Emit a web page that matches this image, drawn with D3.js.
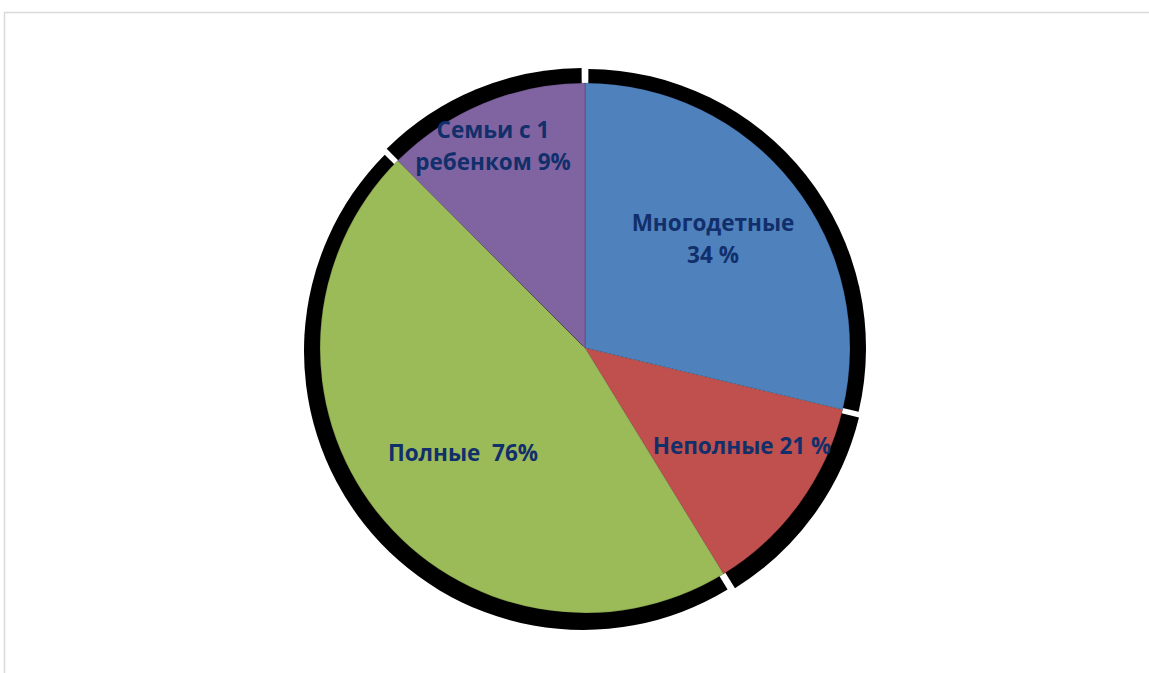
<!DOCTYPE html>
<html><head><meta charset="utf-8">
<script src="https://cdn.jsdelivr.net/npm/d3@7"></script>
<style>html,body{margin:0;padding:0;background:#fff;overflow:hidden}</style>
</head><body>
<svg id="chart" width="1149" height="673"></svg>
<script>
const categories = ["Многодетные", "Неполные", "Полные", "Семьи с 1 ребенком"];
const values = [23, 10, 37, 10];
const labelLines = [["Многодетные", "34 %"], ["Неполные 21 %"], ["Полные  76%"], ["Семьи с 1", "ребенком 9%"]];
const colors = ["#4F81BD", "#C0504D", "#9BBB59", "#8064A2"];

const svg = d3.select("#chart");
svg.append("rect").attr("x", 4.5).attr("y", 12.5).attr("width", 1200).attr("height", 700)
  .attr("fill", "#fff").attr("stroke", "#d9d9d9").attr("stroke-width", 1.5);

const cx = 585, cy = 348, r = 265;
const pie = d3.pie().sort(null).value(d => d)(values);
const g = svg.append("g").attr("transform", `translate(${cx},${cy})`);

// shadow
const shadowArc = d3.arc().innerRadius(0).outerRadius(279).padAngle(0.01);
const shOff = [[2, 0], [3, 3], [-2, 3], [-2, -1]];
g.selectAll("path.sh").data(pie).join("path").attr("class", "sh")
  .attr("transform", (d, i) => `translate(${shOff[i][0]},${shOff[i][1]})`)
  .attr("d", shadowArc).attr("fill", "#000");

const arc = d3.arc().innerRadius(0).outerRadius(r);
g.selectAll("path.sl").data(pie).join("path").attr("class", "sl")
  .attr("d", arc).attr("fill", (d, i) => colors[i])
  .attr("stroke", "rgba(0,0,0,0.35)").attr("stroke-width", 0.5);

const lblPos = [[713, 239], [742, 446], [463, 453], [493, 146]];
const lh = 32;
labelLines.forEach((lines, i) => {
  const t = svg.append("text").attr("text-anchor", "middle")
    .attr("font-family", "'Open Sans', sans-serif").attr("font-weight", "bold")
    .attr("font-size", 22.5).attr("fill", "#112F6A").style("white-space", "pre");
  lines.forEach((ln, j) => {
    t.append("tspan").attr("x", lblPos[i][0])
      .attr("y", lblPos[i][1] + (j - (lines.length - 1) / 2) * lh + 8)
      .text(ln);
  });
});
</script>
</body></html>
